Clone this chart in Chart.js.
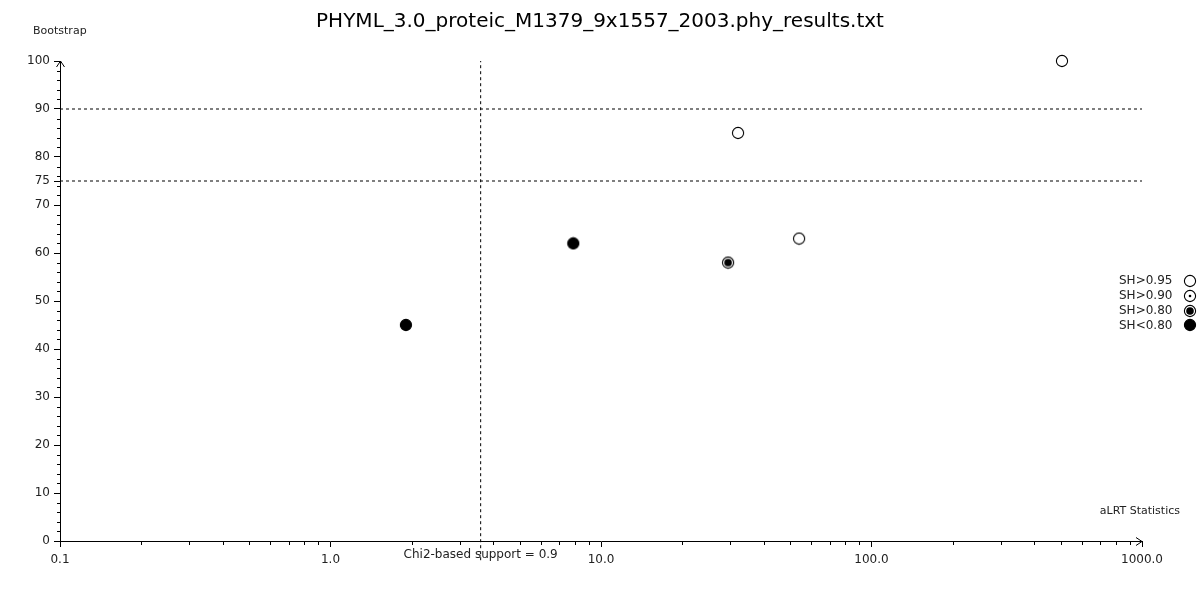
<!DOCTYPE html>
<html>
<head>
<meta charset="utf-8">
<title>PHYML results</title>
<script src="https://cdn.jsdelivr.net/npm/chart.js@4"></script>
<style>
  html, body { margin: 0; padding: 0; background: #fff; }
  #bootstrapChart { display: block; }
</style>
</head>
<body>
<canvas id="bootstrapChart" width="1200" height="600"></canvas>
<script>
  const chartTitle = 'PHYML_3.0_proteic_M1379_9x1557_2003.phy_results.txt'
  const xTicks = [0.1, 1, 10, 100, 1000]
  const yTicks = [0, 10, 20, 30, 40, 50, 60, 70, 75, 80, 90, 100]
  const shLabels = ['SH>0.95', 'SH>0.90', 'SH>0.80', 'SH<0.80']

  // aLRT statistic / bootstrap per SH class
  const sh95X = [506, 32.1, 54.0]
  const sh95Y = [100, 85, 63]
  const sh90X = []
  const sh90Y = []
  const sh80X = [29.5]
  const sh80Y = [58]
  const shLowX = [7.9, 1.9]
  const shLowY = [62, 45]

  const bootstrapCutoffs = [90, 75]
  const chi2Cutoff = 3.59
  const chi2Span = [-4, 100]

  const textFont = '"DejaVu Sans", sans-serif'

  const makeMarker = inner => {
    const c = document.createElement('canvas')
    c.width = 14
    c.height = 14
    const g = c.getContext('2d')
    g.beginPath()
    g.arc(7, 7, 5.6, 0, Math.PI * 2)
    g.fillStyle = inner >= 5.5 ? '#000' : '#fff'
    g.fill()
    g.strokeStyle = '#000'
    g.lineWidth = 1.1
    g.stroke()
    if (inner > 0 && inner < 5.5) {
      g.beginPath()
      g.arc(7, 7, inner, 0, Math.PI * 2)
      g.fillStyle = '#000'
      g.fill()
    }
    return c
  }
  const markers = [makeMarker(0), makeMarker(1.3), makeMarker(3.8), makeMarker(6)]

  const toPoints = (xs, ys) => xs.map((x, i) => ({ x: x, y: ys[i] }))

  const pointSet = (i, xs, ys) => ({
    label: shLabels[i],
    data: toPoints(xs, ys),
    pointStyle: markers[i],
    pointRadius: 6,
    showLine: false,
    clip: false,
    order: 1
  })

  const dashedSet = data => ({
    label: '',
    data: data,
    showLine: true,
    borderColor: '#000',
    borderWidth: 1,
    borderDash: [3, 3],
    pointRadius: 0,
    clip: false,
    order: 2
  })

  const datasets = [
    pointSet(0, sh95X, sh95Y),
    pointSet(1, sh90X, sh90Y),
    pointSet(2, sh80X, sh80Y),
    pointSet(3, shLowX, shLowY)
  ]
  bootstrapCutoffs.forEach(b => {
    datasets.push(dashedSet([{ x: xTicks[0], y: b }, { x: xTicks[xTicks.length - 1], y: b }]))
  })
  datasets.push(dashedSet(chi2Span.map(y => ({ x: chi2Cutoff, y: y }))))

  const decorations = {
    id: 'decorations',
    afterDraw(chart) {
      const { ctx, chartArea: area, scales: { x, y } } = chart
      ctx.save()
      ctx.strokeStyle = '#000'
      ctx.lineWidth = 1

      // minor ticks
      ctx.beginPath()
      for (let v = 0; v <= 100; v += 2) {
        if (yTicks.includes(v)) continue
        const py = Math.round(y.getPixelForValue(v)) + 0.5
        ctx.moveTo(area.left - 3, py)
        ctx.lineTo(area.left, py)
      }
      for (let d = 0; d < xTicks.length - 1; d++) {
        for (let k = 2; k < 10; k++) {
          const px = Math.round(x.getPixelForValue(xTicks[d] * k)) + 0.5
          ctx.moveTo(px, area.bottom)
          ctx.lineTo(px, area.bottom + 4)
        }
      }
      ctx.stroke()

      // axis arrows
      ctx.beginPath()
      const ax = Math.round(area.left) + 0.5
      const ay = Math.round(area.bottom) + 0.5
      ctx.moveTo(ax - 4, area.top + 6)
      ctx.lineTo(ax, area.top)
      ctx.lineTo(ax + 4, area.top + 6)
      ctx.moveTo(area.right - 6, ay - 4)
      ctx.lineTo(area.right, ay)
      ctx.lineTo(area.right - 6, ay + 4)
      ctx.stroke()

      // title
      ctx.fillStyle = '#000'
      ctx.font = '20px ' + textFont
      ctx.textBaseline = 'middle'
      ctx.textAlign = 'center'
      ctx.fillText(chartTitle, 600, 22)

      // axis titles and note
      ctx.fillStyle = '#222'
      ctx.font = '11px ' + textFont
      ctx.textAlign = 'left'
      ctx.fillText('Bootstrap', 33, 31)
      ctx.textAlign = 'right'
      ctx.fillText('aLRT Statistics', 1180, 511)
      ctx.font = '12px ' + textFont
      ctx.textAlign = 'center'
      ctx.fillText('Chi2-based support = 0.9', x.getPixelForValue(chi2Cutoff), 555)

      // legend
      ctx.textAlign = 'left'
      shLabels.forEach((label, i) => {
        const ly = 281 + i * 14.8
        ctx.fillText(label, 1119, ly)
        ctx.drawImage(markers[i], 1190 - 7, Math.round(ly) - 7)
      })
      ctx.restore()
    }
  }

  new Chart(document.getElementById('bootstrapChart'), {
    type: 'scatter',
    data: { datasets: datasets },
    plugins: [decorations],
    options: {
      responsive: false,
      animation: false,
      events: [],
      layout: {
        padding: { top: 61, right: 58, bottom: 0, left: 0 }
      },
      plugins: {
        legend: { display: false },
        tooltip: { enabled: false },
        title: { display: false }
      },
      scales: {
        x: {
          type: 'logarithmic',
          min: xTicks[0],
          max: xTicks[xTicks.length - 1],
          afterBuildTicks: scale => {
            scale.ticks = xTicks.map(v => ({ value: v }))
          },
          afterFit: scale => {
            scale.height = 59
          },
          ticks: {
            autoSkip: false,
            maxRotation: 0,
            padding: 6,
            color: '#222',
            font: { family: textFont, size: 12 },
            callback: value => Number(value).toFixed(1)
          },
          grid: {
            drawOnChartArea: false,
            tickLength: 6,
            color: '#000'
          },
          border: { color: '#000', width: 1 }
        },
        y: {
          min: 0,
          max: 100,
          afterBuildTicks: scale => {
            scale.ticks = yTicks.map(v => ({ value: v }))
          },
          afterFit: scale => {
            scale.width = 60
          },
          ticks: {
            autoSkip: false,
            padding: 4,
            color: '#222',
            font: { family: textFont, size: 12 }
          },
          grid: {
            drawOnChartArea: false,
            tickLength: 6,
            color: '#000'
          },
          border: { color: '#000', width: 1 }
        }
      }
    }
  })
</script>
</body>
</html>
